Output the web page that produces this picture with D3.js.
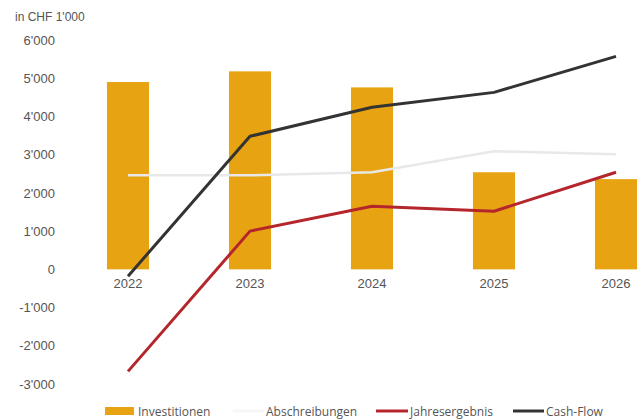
<!DOCTYPE html>
<html>
<head>
<meta charset="utf-8">
<script src="https://cdn.jsdelivr.net/npm/d3@7"></script>
<style>
  body { margin: 0; background: #fff; }
  svg { display: block; }
</style>
</head>
<body>
<div id="chart"></div>
<script>
// values, in CHF 1'000
var years = ["2022", "2023", "2024", "2025", "2026"];
var investitionen = [4900, 5180, 4760, 2540, 2360];
var abschreibungen = [2460, 2460, 2540, 3090, 3010];
var jahresergebnis = [-2670, 1000, 1650, 1520, 2540];
var cashFlow = [-180, 3480, 4240, 4630, 5570];
var yTicks = [-3000, -2000, -1000, 0, 1000, 2000, 3000, 4000, 5000, 6000];

var width = 638, height = 420;

var svg = d3.select("#chart")
  .append("svg")
  .attr("width", width)
  .attr("height", height);

var x = d3.scaleBand()
  .domain(years)
  .range([67, 677])
  .paddingInner(0.655)
  .paddingOuter(0.3275);

var y = d3.scaleLinear()
  .domain([-3000, 6000])
  .range([384, 40]);

// swiss style thousands, plain hyphen for negatives
var fmt = d3.formatLocale({
  decimal: ".",
  thousands: "'",
  grouping: [3],
  currency: ["", ""],
  minus: "-"
}).format(",");

// unit label
svg.append("text")
  .attr("x", 15)
  .attr("y", 21)
  .style("font-family", "Liberation Sans, Arial, sans-serif")
  .style("font-size", "12px")
  .style("fill", "#555")
  .text("in CHF 1'000");

// y axis, labels only
var yAxis = d3.axisLeft(y)
  .tickValues(yTicks)
  .tickSize(0)
  .tickPadding(0)
  .tickFormat(fmt);

var yg = svg.append("g")
  .attr("transform", "translate(55,0)")
  .call(yAxis);
yg.select(".domain").remove();
yg.selectAll("text")
  .style("font-family", "Liberation Sans, Arial, sans-serif")
  .style("font-size", "13px")
  .style("fill", "#555");

// bars
svg.selectAll("rect.bar")
  .data(investitionen)
  .enter().append("rect")
  .attr("class", "bar")
  .attr("x", function(d, i) { return x(years[i]); })
  .attr("y", function(d) { return y(d); })
  .attr("width", x.bandwidth())
  .attr("height", function(d) { return y(0) - y(d); })
  .style("fill", "#e8a312");

// x axis, labels only
var xAxis = d3.axisBottom(x)
  .tickSize(0)
  .tickPadding(0);

var xg = svg.append("g")
  .attr("transform", "translate(0," + (y(0) + 9) + ")")
  .call(xAxis);
xg.select(".domain").remove();
xg.selectAll("text")
  .style("font-family", "Liberation Sans, Arial, sans-serif")
  .style("font-size", "13px")
  .style("fill", "#555");

var line = d3.line()
  .x(function(d, i) { return x(years[i]) + x.bandwidth() / 2; })
  .y(function(d) { return y(d); });

var series = [
  { name: "Abschreibungen", values: abschreibungen, color: "#e8e8e8", w: 2.5 },
  { name: "Jahresergebnis", values: jahresergebnis, color: "#b5262c", w: 3 },
  { name: "Cash-Flow", values: cashFlow, color: "#333333", w: 3 }
];

series.forEach(function(s) {
  svg.append("path")
    .datum(s.values)
    .attr("d", line)
    .style("fill", "none")
    .style("stroke", s.color)
    .style("stroke-width", s.w)
    .style("stroke-linejoin", "round");
});

// legend
var legendY = 411;
var legendFont = "Open Sans, Noto Sans, sans-serif";

svg.append("rect")
  .attr("x", 105)
  .attr("y", legendY - 4)
  .attr("width", 29)
  .attr("height", 8)
  .style("fill", "#e8a312");

var legend = [
  { label: "Investitionen", tx: 138 },
  { label: "Abschreibungen", tx: 266, lx: 233, color: "#f6f6f6" },
  { label: "Jahresergebnis", tx: 410, lx: 376, color: "#b5262c" },
  { label: "Cash-Flow", tx: 546, lx: 513, color: "#333333" }
];

legend.forEach(function(l) {
  if (l.lx) {
    svg.append("line")
      .attr("x1", l.lx)
      .attr("x2", l.tx - 2)
      .attr("y1", legendY)
      .attr("y2", legendY)
      .style("stroke", l.color)
      .style("stroke-width", 3);
  }
  svg.append("text")
    .attr("x", l.tx)
    .attr("y", legendY + 5)
    .style("font-family", legendFont)
    .style("font-size", "12px")
    .style("fill", "#555")
    .text(l.label);
});
</script>
</body>
</html>
